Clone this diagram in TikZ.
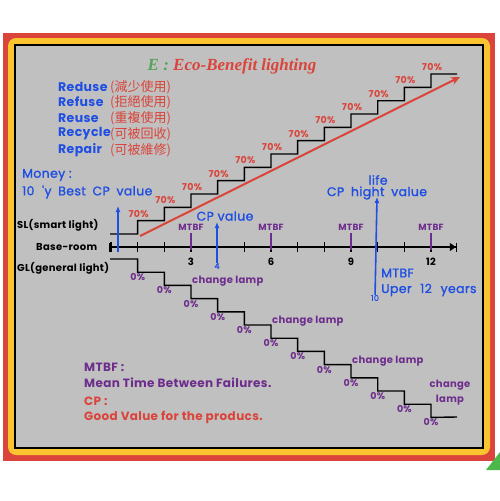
\documentclass[tikz,border=0pt]{standalone}
\usepackage{fontspec}
\usepackage{tikz}
\usetikzlibrary{arrows.meta}
\newfontfamily\pop[LetterSpace=3]{Poppins}
\newfontfamily\popm[LetterSpace=3, FakeBold=1.2]{Poppins}
\newfontfamily\cjk{Noto Sans CJK TC}
\newfontfamily\ttl{Liberation Serif}

\definecolor{ecoblue}{RGB}{30,78,226}
\definecolor{ecored}{RGB}{218,68,58}
\definecolor{ecopurple}{RGB}{110,45,140}
\definecolor{ecogreen}{RGB}{86,164,86}
\definecolor{ecogray}{RGB}{192,192,192}
\definecolor{ecoyellow}{RGB}{250,196,48}

\tikzset{
  txt/.style={inner sep=0pt, font=\popm\fontsize{#1}{#1}\selectfont},
  txt/.default=12,
  btxt/.style={inner sep=0pt, font=\pop\bfseries\fontsize{#1}{#1}\selectfont},
  btxt/.default=12,
  stair/.style={line width=1.4pt, line join=miter},
  uparrow/.style={ecoblue, line width=1.6pt, -{Latex[length=6pt,width=5pt]}},
  mtbf/.style={ecopurple, line width=1.8pt},
}

\begin{document}
\begin{tikzpicture}[x=1pt,y=-1pt]
        \useasboundingbox (0,0) rectangle (500,501);
        % Draw the frame
        \fill[ecored] (3,33) rectangle (495,461);
        \fill[ecoyellow, rounded corners=8pt] (8,38) rectangle (490,455);
        \draw[fill=ecogray, line width=1.5pt] (15,45) rectangle (483,448);
        \fill[green!60!black!70] (486,470) -- (500,452) -- (500,470) -- cycle;

        % Title and the 5 R's
        \node[font=\ttl\bfseries\itshape\fontsize{17}{17}\selectfont, inner sep=0pt] (title) at (232,66)
            {\textcolor{ecogreen}{E :} \textcolor{ecored}{Eco-Benefit lighting}};
        \foreach \y/\word/\zh [count=\i] in {87/Reduse/減少使用, 102/Refuse/拒絕使用, 118/Reuse/重複使用,
                                           134/Recycle/可被回收, 150/Repair/可被維修} {
            \node[btxt=12.5, text=ecoblue, anchor=west] (r\i) at (58,\y) {\word};
            \node[inner sep=0pt, anchor=west, text=ecored, font=\cjk\fontsize{13}{13}\selectfont] (zh\i) at (110,\y) {(\zh)};
        }

        % Draw the number line
        \draw[line width=1.2pt, {Bar[width=9pt]}-{Triangle[length=6pt,width=8pt]Bar[width=9pt]}] (109,247) -- (457,247);
        \foreach \k in {0,...,12} {
            \draw[line width=1.2pt] ({111+26.67*\k},242) -- ({111+26.67*\k},252);
        }
        \foreach \k in {3,6,9,12} {
            \draw[mtbf] ({111+26.67*\k},233) -- ({111+26.67*\k},250);
            \node[btxt=9, text=ecopurple] (m\k) at ({111+26.67*\k},227) {MTBF};
            \node[btxt=10] (n\k) at ({111+26.67*\k},262) {\k};
        }
        \node[btxt=10, anchor=west] (sl) at (17,225) {SL(smart light)};
        \node[btxt=10, anchor=west] (base) at (36,247) {Base-room};
        \node[btxt=10, anchor=west] (gl) at (17,268) {GL(general light)};

        % SL stairs going up
        \draw[stair] (110,234) \foreach \k in {1,...,12} { -| ({111+26.67*\k},{234-13.33*\k}) } -- (457,74);
        \foreach \k in {1,...,12} {
            \node[btxt=9.5, text=ecored] (up\k) at ({112+26.67*\k},{227-13.33*\k}) {70\%};
        }
        \draw[ecored, line width=2pt, -{Stealth[length=9pt,width=8pt]}] (140,236) -- (460,77);

        % GL stairs going down
        \draw[stair] (110,259) \foreach \k in {1,...,12} { -| ({111+26.67*\k},{259+13.2*\k}) } -- (457,417);
        \foreach \k in {1,...,12} {
            \node[btxt=9.5, text=ecopurple] (dn\k) at ({111+26.67*\k},{264+13.2*\k}) {0\%};
        }
        \foreach \k in {3,6,9} {
            \node[btxt=10, text=ecopurple, anchor=west] (cl\k) at ({112+26.67*\k},{242+13.2*\k}) {change lamp};
        }
        \node[btxt=10, text=ecopurple, align=center] (cl12) at (450,393) {change\\[4pt]lamp};

        % Blue arrows and their notes
        \coordinate (moneyfoot) at (118,252);
        \coordinate (moneyhead) at (118,206);
        \draw[uparrow] (moneyfoot) -- (moneyhead);
        \node[txt=12.5, text=ecoblue, anchor=west] (money) at (22,175) {Money :};
        \node[txt=12.5, text=ecoblue, anchor=west] (best) at (22,192) {10\hspace{4pt} 'y\hspace{3pt} Best\hspace{3pt} CP\hspace{3pt} value};

        \node[txt=8, text=ecoblue] (four) at (217,266) {4};
        \coordinate (cphead) at (217,222);
        \draw[uparrow] (four) -- (cphead);
        \node[txt=12.5, text=ecoblue] (cp) at (225,216) {CP value};

        \node[txt=8, text=ecoblue] (ten) at (375,298) {10};
        \coordinate (lifehead) at (377,197);
        \draw[uparrow] (ten) -- (lifehead);
        \node[txt=12.5, text=ecoblue] (life) at (378,180) {life};
        \node[txt=12.5, text=ecoblue] (cphigh) at (377,193) {CP\hspace{3pt} hight\hspace{3pt} value};
        \node[txt=12.5, text=ecoblue, anchor=west] (mtbfnote) at (381,273) {MTBF};
        \node[txt=12.5, text=ecoblue, anchor=west] (uper) at (381,290) {Uper\hspace{5pt} 12\hspace{5pt} years};

        % Notes at the bottom
        \node[btxt=12, text=ecopurple, anchor=west] (note1) at (84,367) {MTBF :};
        \node[btxt=12, text=ecopurple, anchor=west] (note2) at (84,383) {Mean Time Between Failures.};
        \node[btxt=12, text=ecored, anchor=west] (note3) at (84,401) {CP :};
        \node[btxt=12, text=ecored, anchor=west] (note4) at (84,417) {Good Value for the producs.};
    \end{tikzpicture}
\end{document}
